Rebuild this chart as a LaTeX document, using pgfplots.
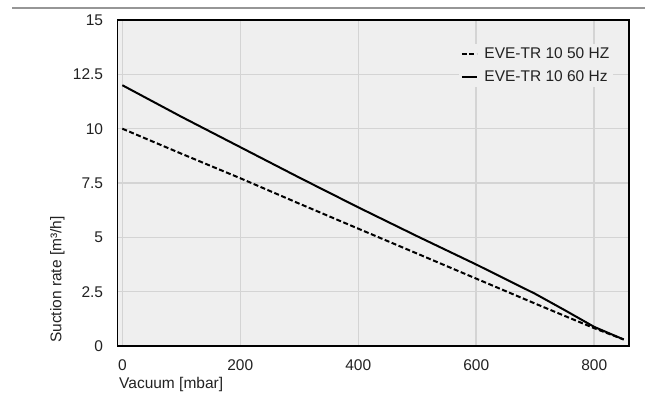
\documentclass[border=0pt]{standalone}
\usepackage{fontspec}
\setmainfont{Liberation Sans}
\usepackage{pgfplots}
\pgfplotsset{compat=1.18}
\definecolor{plotbg}{RGB}{239,239,239}
\definecolor{gridgray}{RGB}{212,212,212}
\definecolor{txt}{RGB}{34,34,34}
\definecolor{rulegray}{RGB}{150,150,150}
\newcommand{\chartfont}{\fontsize{15.5bp}{18bp}\selectfont}

\begin{document}
\begin{tikzpicture}[x=1bp,y=1bp]
\useasboundingbox (-117.3,-57) rectangle (527.7,346);
% thin rule across the top
\draw[rulegray, line width=1.5bp] (-105,338) -- (527.7,338);
\begin{axis}[
    name=ax, at={(0,0)}, anchor=south west,
    scale only axis,
    width=511.7bp, height=326bp,
    xmin=-8.5, xmax=859,
    ymin=0, ymax=15,
    xtick={0,200,400,600,800},
    ytick={0,2.5,5,7.5,10,12.5,15},
    /pgf/number format/assume math mode=true,
    axis background/.style={fill=plotbg},
    grid=major,
    major grid style={draw=gridgray, line width=1.5bp},
    axis line style={black, line width=1.5bp},
    major tick length=0pt,
    tick label style={font=\chartfont, text=txt},
    yticklabel style={anchor=east, inner sep=0pt, xshift=-14bp},
    xticklabel style={anchor=north, inner sep=0pt, yshift=-13bp},
    legend style={at={(rel axis cs:1,1)}, anchor=north east,
        xshift=-16bp, yshift=-24bp,
        fill=plotbg, draw=none, font=\chartfont, text=txt,
        inner xsep=2bp, inner ysep=2bp, row sep=8bp,
        nodes={inner sep=1.5bp},
        /tikz/every odd column/.append style={column sep=5bp}},
    legend cell align=left,
    legend image code/.code={\draw[#1] (0bp,0bp) -- (15bp,0bp);},
]

% 50 Hz
\addplot[black, line width=2bp, dash pattern=on 5bp off 2.5bp] coordinates {
    (0, 10) (100, 8.85) (200, 7.72) (300, 6.55) (400, 5.4) (500, 4.25)
    (600, 3.1) (700, 1.95) (800, 0.82) (850, 0.3)
};

% 60 Hz
\addplot[black, line width=2bp] coordinates {
    (0, 12) (100, 10.55) (200, 9.15) (300, 7.75) (400, 6.38) (500, 5.05)
    (600, 3.75) (700, 2.4) (750, 1.65) (800, 0.88) (850, 0.3)
};

\legend{EVE-TR 10 50 HZ, EVE-TR 10 60 Hz}
\end{axis}
\node[font=\chartfont, text=txt, anchor=base west, inner sep=0pt]
    at ([shift={(1.7,-42.5)}]ax.south west) {Vacuum [mbar]};
\node[font=\chartfont, text=txt, rotate=90, anchor=base west, inner sep=0pt]
    at ([shift={(-56,3)}]ax.south west) {Suction rate [m³/h]};
\end{tikzpicture}
\end{document}
